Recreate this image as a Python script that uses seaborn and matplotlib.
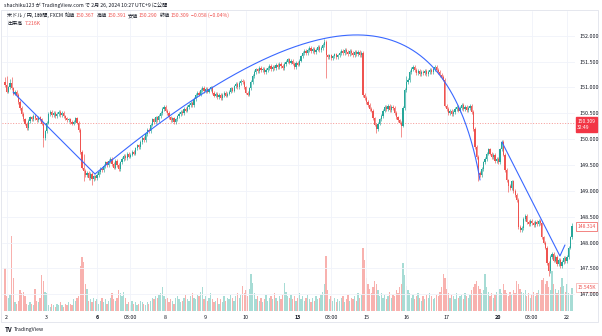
import matplotlib
matplotlib.use("Agg")
import matplotlib.pyplot as plt
from matplotlib.patches import Rectangle
import numpy as np
import pandas as pd
import seaborn as sns

sns.set_theme(style="white")
plt.rcParams['font.family'] = ['Noto Sans CJK JP', 'DejaVu Sans']

UP, DOWN = '#26a69a', '#ef5350'
VOL_UP, VOL_DOWN = '#a7dcd5', '#f8b1ae'
TREND = '#3a68ff'
TXT = '#131722'

# ---- USD/JPY hourly closes (FXCM) ----
first_open = 151.10
closes = [
    151.05, 150.92, 151.00, 151.08, 150.98, 150.88,
    150.92, 150.85,
    150.72, 150.60, 150.48, 150.38, 150.30,
    150.22,
    150.35, 150.42, 150.38, 150.45, 150.40, 150.36, 150.42, 150.38, 150.30,
    150.02, 150.15, 150.32,
    150.48, 150.52, 150.47, 150.50, 150.45, 150.49, 150.52, 150.46, 150.50,
    150.44, 150.40, 150.36, 150.38, 150.33, 150.30, 150.34, 150.40, 150.32,
    150.18, 149.75, 149.45,
    149.38, 149.30, 149.35, 149.25, 149.32, 149.22, 149.28, 149.24, 149.30,
    149.36, 149.42, 149.40, 149.48, 149.55, 149.50, 149.58, 149.62,
    149.52, 149.45, 149.58, 149.50, 149.42, 149.55,
    149.62, 149.68, 149.64, 149.72, 149.66, 149.70, 149.76, 149.72,
    149.82, 149.88, 149.85, 149.95, 150.02, 149.98, 150.10, 150.18, 150.15, 150.28,
    150.38, 150.33, 150.42, 150.36, 150.45, 150.50,
    150.58, 150.62, 150.55, 150.50,
    150.42, 150.36, 150.40, 150.33, 150.38, 150.44,
    150.48, 150.52, 150.50, 150.58, 150.55, 150.62, 150.66,
    150.70, 150.66, 150.78, 150.85,
    150.90, 150.86, 150.95, 150.99, 150.93, 150.97,
    150.92, 150.96, 151.00, 150.90,
    150.84, 150.88, 150.82, 150.86, 150.80, 150.85, 150.90, 150.84, 150.88, 150.92,
    150.98, 150.94, 151.02, 151.06, 151.00, 151.08, 151.12, 151.10,
    151.00, 150.90, 150.86,
    150.98, 151.10, 151.22, 151.30, 151.35,
    151.32, 151.38, 151.33, 151.36, 151.30, 151.34, 151.38, 151.42,
    151.36, 151.40, 151.38, 151.44, 151.40, 151.46, 151.42, 151.38,
    151.45, 151.50, 151.54, 151.48, 151.52, 151.46, 151.40, 151.48,
    151.44, 151.52, 151.60, 151.66,
    151.70, 151.66, 151.72, 151.76, 151.70, 151.74, 151.68, 151.73, 151.78, 151.72, 151.76, 151.82,
    151.88, 151.62,
    151.58, 151.62, 151.56, 151.60, 151.64, 151.58, 151.62, 151.66,
    151.70, 151.66, 151.72, 151.68, 151.64, 151.70, 151.66, 151.62, 151.68, 151.64, 151.68, 151.62, 151.66,
    150.85,
    150.80, 150.72, 150.66, 150.58, 150.55,
    150.40, 150.28, 150.20,
    150.30, 150.38, 150.45,
    150.55, 150.62, 150.58, 150.64, 150.56, 150.62, 150.60,
    150.50, 150.42, 150.36, 150.32, 150.26,
    150.60, 150.95, 151.10, 151.14,
    151.30, 151.36, 151.40, 151.34, 151.28, 151.32, 151.25, 151.30,
    151.28, 151.32, 151.26, 151.30, 151.34, 151.30, 151.36, 151.40, 151.34, 151.30, 151.24,
    151.20, 151.15,
    150.65,
    150.58, 150.50, 150.55, 150.48, 150.52,
    150.58, 150.62, 150.55, 150.60, 150.66, 150.58, 150.62, 150.56, 150.60, 150.64, 150.52,
    150.20, 149.85, 149.65, 149.35,
    149.30, 149.42, 149.55, 149.62, 149.72, 149.80,
    149.72, 149.65, 149.70, 149.58, 149.62, 149.55,
    149.80, 149.95,
    149.70, 149.40, 149.20,
    149.10, 149.05, 149.18, 149.00, 148.92,
    148.82, 148.30,
    148.24, 148.28,
    148.45, 148.52,
    148.40, 148.36, 148.42, 148.38, 148.34, 148.40, 148.36, 148.42, 148.38,
    148.10, 148.00, 147.90,
    147.60, 147.45,
    147.72, 147.78,
    147.65, 147.72, 147.58, 147.66, 147.55, 147.62,
    147.70, 147.64, 147.72,
    147.90, 148.10, 148.314,
]

# hourly volume, thousands
volumes = [
    29, 10, 9, 11, 50, 22, 6, 5, 7, 14,
    12, 13, 10, 5, 4, 6, 5, 4, 15, 7,
    6, 9, 24, 20, 13, 12, 4, 3, 5, 4,
    3, 5, 4, 6, 4, 3, 5, 4, 6, 5,
    4, 8, 7, 9, 10, 30, 36, 33, 18, 15,
    7, 8, 6, 9, 7, 8, 5, 7, 9, 6,
    8, 5, 7, 9, 12, 8, 7, 9, 14, 12,
    10, 13, 9, 5, 6, 4, 7, 5, 6, 4,
    5, 7, 6, 5, 4, 6, 5, 7, 9, 8,
    10, 9, 11, 12, 16, 10, 8, 9, 6, 8,
    7, 5, 9, 10, 8, 6, 7, 9, 11, 8,
    7, 10, 12, 9, 8, 11, 10, 13, 16, 8,
    10, 7, 9, 12, 8, 6, 7, 9, 5, 8,
    6, 10, 7, 9, 8, 11, 9, 7, 10, 12,
    9, 11, 17, 12, 14, 10, 15, 25, 19, 12,
    8, 10, 7, 9, 6, 8, 11, 7, 9, 10,
    8, 12, 9, 7, 10, 8, 11, 19, 13, 10,
    9, 11, 8, 10, 7, 9, 12, 8, 10, 7,
    9, 11, 8, 6, 9, 7, 10, 8, 9, 11,
    13, 18, 37, 14, 8, 10, 7, 9, 6, 8,
    7, 9, 10, 6, 8, 11, 7, 9, 8, 10,
    7, 12, 9, 11, 42, 34, 22, 18, 15, 12,
    16, 20, 18, 14, 10, 12, 9, 11, 8, 10,
    13, 9, 11, 10, 14, 12, 16, 18, 32, 24,
    17, 14, 12, 9, 11, 8, 10, 12, 9, 7,
    10, 8, 11, 9, 12, 10, 8, 9, 11, 10,
    13, 16, 25, 22, 15, 12, 9, 11, 10, 8,
    12, 9, 10, 11, 8, 12, 10, 9, 11, 14,
    16, 18, 20, 17, 15, 12, 14, 25, 16, 13,
    10, 12, 9, 11, 13, 10, 15, 12, 18, 14,
    12, 10, 13, 11, 14, 12, 20, 18, 15, 13,
    12, 14, 10, 12, 9, 11, 13, 10, 12, 14,
    11, 21, 22, 18, 20, 16, 14, 27, 18, 15,
    12, 14, 16, 22, 17, 13, 18, 12, 11, 15.545,
]

# candles whose wicks reach well beyond the body
wick_highs = {0: 151.20, 1: 151.22, 3: 151.16, 4: 151.20, 47: 149.72, 191: 151.93,
              240: 151.22, 297: 149.98, 339: 148.38}
wick_lows = {23: 149.84, 47: 149.18, 52: 149.12, 192: 151.18, 222: 150.12,
             237: 150.04, 283: 149.18, 325: 147.35, 301: 148.98}

tick_pos = [1, 25, 55, 75, 96, 120, 144, 175, 195, 216, 240, 264, 295, 315, 336]
tick_text = ["2", "3", "6", "03:00", "8", "9", "10", "13", "03:00", "15", "16",
             "17", "20", "03:00", "22"]
bold_ticks = {"6", "13", "20"}
price_ticks = [147.0, 147.5, 148.0, 148.5, 149.0, 149.5, 150.0, 150.5,
               151.0, 151.5, 152.0]

# drawing tools on the chart (bar index, price)
trend_a_x, trend_a_y = [4.8, 53.8], [150.911, 149.325]
arc_x, arc_y = [53.8, 254.1, 284.0], [149.325, 154.762, 149.209]
trend_b_x, trend_b_y = [297.1, 331.8, 334.8], [149.944, 147.739, 147.952]

last_price = 150.309
last_close_label = 148.314
last_volume = 15.545

# status line: (label, value) pairs
ohlc_names = ["始値", "高値", "安値", "終値"]
ohlc_values = ["150.367", "150.391", "150.290", "150.309"]
change_text = "−0.058 (−0.04%)"
volume_text = "7.216K"

# ---------------------------------------------------------------
W, H = 602, 336
fig = plt.figure(figsize=(W / 100, H / 100), dpi=100)
fig.patch.set_facecolor('white')


def fx(x):
    return x / W


def fy(y):
    return 1 - y / H


left, right, top, bottom = 2, 575, 11, 311
ax2 = fig.add_axes([fx(left), fy(bottom), fx(right - left), (bottom - top) / H])
ax = fig.add_axes([fx(left), fy(bottom), fx(right - left), (bottom - top) / H],
                  sharex=ax2)
ax.set_zorder(ax2.get_zorder() + 1)
ax.patch.set_visible(False)

df = pd.DataFrame({'close': closes})
df['open'] = [first_open] + closes[:-1]
df['idx'] = np.arange(len(df))
wick_pad = 0.035
df['high'] = df[['open', 'close']].max(axis=1) + wick_pad
df['low'] = df[['open', 'close']].min(axis=1) - wick_pad
for k, v in wick_highs.items():
    df.loc[k, 'high'] = v
for k, v in wick_lows.items():
    df.loc[k, 'low'] = v
df['up'] = df['close'] >= df['open']
df['volume'] = volumes[:len(df)]

# volume histogram
vcol = np.where(df['up'], VOL_UP, VOL_DOWN)
ax2.bar(df['idx'], df['volume'], width=0.78, color=vcol, linewidth=0)
ax2.set_ylim(0, 200)
ax2.axis('off')

# candles
ccol = np.where(df['up'], UP, DOWN)
ax.vlines(df['idx'], df['low'], df['high'], colors=ccol, linewidth=0.45, zorder=3)
body_lo = df[['open', 'close']].min(axis=1)
body_h = (df['close'] - df['open']).abs().clip(lower=0.012)
ax.bar(df['idx'], body_h, bottom=body_lo, width=0.72, color=ccol, linewidth=0, zorder=4)

# last price line
ax.axhline(last_price, color=DOWN, lw=0.6, ls=(0, (1.2, 2.0)), alpha=0.7, zorder=2)

# trend drawings
sns.lineplot(x=trend_a_x, y=trend_a_y, ax=ax, color=TREND, lw=0.8,
             sort=False, estimator=None, zorder=6)
t = np.linspace(0, 1, 300)
bx = (1 - t) ** 2 * arc_x[0] + 2 * t * (1 - t) * arc_x[1] + t ** 2 * arc_x[2]
by = (1 - t) ** 2 * arc_y[0] + 2 * t * (1 - t) * arc_y[1] + t ** 2 * arc_y[2]
sns.lineplot(x=bx, y=by, ax=ax, color=TREND, lw=0.8, sort=False,
             estimator=None, zorder=6)
sns.lineplot(x=trend_b_x, y=trend_b_y, ax=ax, color=TREND, lw=0.8,
             sort=False, estimator=None, zorder=6)

ax.set_xlim(-1.8, 340.8)
ax.set_ylim(146.675, 152.478)

# axes, ticks and grid
ax.yaxis.tick_right()
ax.set_yticks(price_ticks)
ax.set_yticklabels([f"{v:.3f}" for v in price_ticks])
ax.set_xticks(tick_pos)
ax.set_xticklabels(tick_text)
for lab in ax.get_xticklabels():
    if lab.get_text() in bold_ticks:
        lab.set_fontweight('bold')
ax.tick_params(axis='y', length=0, pad=3, labelsize=3.9, labelcolor=TXT)
ax.tick_params(axis='x', length=0, pad=3.2, labelsize=3.9, labelcolor=TXT)
ax.grid(True, color='#f0f3fa', lw=0.6, zorder=0)
ax.set_axisbelow(True)
for s in ax.spines.values():
    s.set_visible(False)
ax.set_xlabel('')
ax.set_ylabel('')

# price scale badges
ytr = ax.get_yaxis_transform()
ax.text(1.004, last_price - 0.03, f"{last_price:.3f}\n32:49", transform=ytr,
        fontsize=3.6, color='white', va='center', ha='left', linespacing=1.25,
        bbox=dict(boxstyle='square,pad=0.35', fc='#f23645', ec='#f23645'),
        clip_on=False, zorder=10)
ax.text(1.004, last_close_label, f"{last_close_label:.3f}", transform=ytr,
        fontsize=3.6, color=DOWN, va='center', ha='left',
        bbox=dict(boxstyle='square,pad=0.35', fc='white', ec=DOWN, lw=0.5),
        clip_on=False, zorder=10)
ax2.text(1.004, last_volume, f"{last_volume:.3f}K", transform=ax2.get_yaxis_transform(),
         fontsize=3.6, color=DOWN, va='center', ha='left',
         bbox=dict(boxstyle='square,pad=0.35', fc='white', ec='#f7a9a7', lw=0.5),
         clip_on=False, zorder=10)

# chart frame
fig.add_artist(Rectangle((fx(1), fy(322)), fx(598 - 1), (322 - 10) / H,
                         transform=fig.transFigure, fill=False,
                         ec='#e0e3eb', lw=0.6))

# header
FS = 3.7
fig.text(fx(4), fy(5), "shachiku123 が TradingView.com で 2月 26, 2024 10:27 UTC+9 に公開",
         fontsize=FS, color=TXT, va='center', ha='left')


def chain(prev, s, color, gap):
    return ax.annotate(s, xy=(1, 0), xycoords=prev, xytext=(gap, 0),
                       textcoords='offset points', fontsize=FS, color=color,
                       va='bottom', ha='left', annotation_clip=False)


# status line
cur = fig.text(fx(7), fy(15.7), "米ドル / 円, 1時間, FXCM", fontsize=FS,
               color=TXT, va='center', ha='left')
for name, val in zip(ohlc_names, ohlc_values):
    cur = chain(cur, name, TXT, 1.6)
    cur = chain(cur, val, DOWN, 0.3)
cur = chain(cur, change_text, DOWN, 1.6)

cur = fig.text(fx(7), fy(23.3), "出来高", fontsize=FS, color=TXT, va='center', ha='left')
chain(cur, volume_text, DOWN, 1.6)

# footer logo
fig.text(fx(5), fy(329), "TV", fontsize=4.4, fontweight='bold', color=TXT,
         va='center', ha='left')
fig.text(fx(13.5), fy(329), "TradingView", fontsize=3.7, color=TXT, va='center', ha='left')

fig.savefig("out.png", dpi=100, facecolor='white')
